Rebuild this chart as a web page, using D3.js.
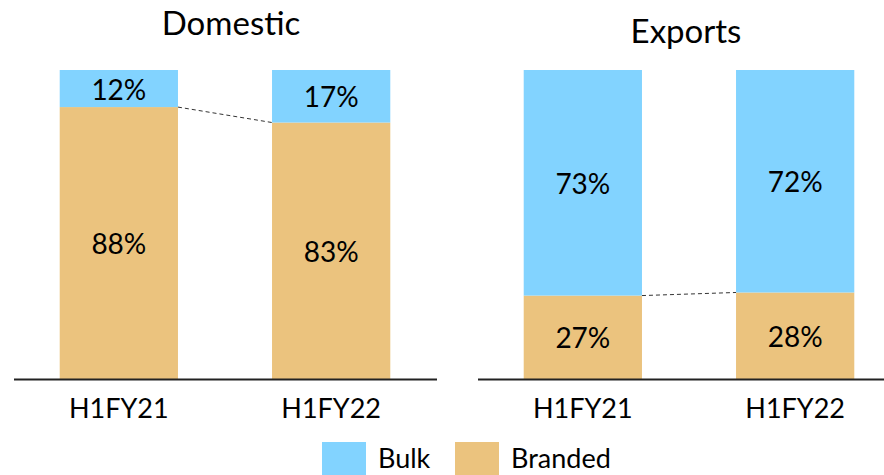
<!DOCTYPE html>
<html><head><meta charset="utf-8">
<script src="https://cdn.jsdelivr.net/npm/d3@7"></script>
<style>body{margin:0;background:#fff}svg{display:block}text{font-family:Lato,"Open Sans",sans-serif;fill:#000}</style>
</head><body><svg id="c" width="884" height="475"></svg>
<script>
const panels = ["Domestic", "Exports"];
const categories = ["H1FY21", "H1FY22"];
const seriesNames = ["Branded", "Bulk"];
const domesticBranded = [0.88, 0.83];
const domesticBulk = [0.12, 0.17];
const exportsBranded = [0.27, 0.28];
const exportsBulk = [0.73, 0.72];
const colors = {Bulk: "#82D3FF", Branded: "#EBC37E"};

const svg = d3.select("#c");
const y = d3.scaleLinear().domain([0, 1]).range([379, 70]);
const layouts = [
  {name: panels[0], branded: domesticBranded, bulk: domesticBulk, range: [13, 437], axis: [14, 437], title: [231, 35]},
  {name: panels[1], branded: exportsBranded, bulk: exportsBulk, range: [477, 901], axis: [478, 884], title: [686, 43]}
];
layouts.forEach(p => {
  const x = d3.scaleBand().domain(categories).range(p.range).paddingInner(0.443).paddingOuter(0.22);
  const g = svg.append("g");
  const rows = categories.map((c, i) => ({c, Branded: p.branded[i], Bulk: p.bulk[i]}));
  const stack = d3.stack().keys(seriesNames)(rows);
  stack.forEach(s => {
    g.selectAll(null).data(s).enter().append("rect")
      .attr("x", d => x(d.data.c)).attr("width", x.bandwidth())
      .attr("y", d => y(d[1])).attr("height", d => y(d[0]) - y(d[1]))
      .attr("fill", colors[s.key]);
  });
  stack.forEach(s => {
    g.selectAll(null).data(s).enter().append("text")
      .attr("x", d => x(d.data.c) + x.bandwidth() / 2)
      .attr("y", d => (y(d[0]) + y(d[1])) / 2)
      .attr("text-anchor", "middle").attr("dominant-baseline", "central")
      .style("font-size", "28px")
      .text(d => Math.round((d[1] - d[0]) * 100) + "%");
  });
  // connector
  g.append("line")
    .attr("x1", x(categories[0]) + x.bandwidth()).attr("y1", y(p.branded[0]))
    .attr("x2", x(categories[1])).attr("y2", y(p.branded[1]))
    .attr("stroke", "#333").attr("stroke-width", 1).attr("stroke-dasharray", "4,3");
  g.append("line").attr("x1", p.axis[0]).attr("x2", p.axis[1]).attr("y1", 379.5).attr("y2", 379.5)
    .attr("stroke", "#222").attr("stroke-width", 2);
  g.selectAll(null).data(categories).enter().append("text")
    .attr("x", d => x(d) + x.bandwidth() / 2).attr("y", 418)
    .attr("text-anchor", "middle").style("font-size", "27px").text(d => d);
  g.append("text").attr("x", p.title[0]).attr("y", p.title[1]).attr("text-anchor", "middle")
    .style("font-size", "33px").text(p.name);
});
// legend
const legend = [{k: "Bulk", x: 322, tx: 378}, {k: "Branded", x: 455, tx: 511}];
legend.forEach(l => {
  svg.append("rect").attr("x", l.x).attr("y", 442).attr("width", 44).attr("height", 36).attr("fill", colors[l.k]);
  svg.append("text").attr("x", l.tx).attr("y", 468).style("font-size", "27px").text(l.k);
});
</script></body></html>
